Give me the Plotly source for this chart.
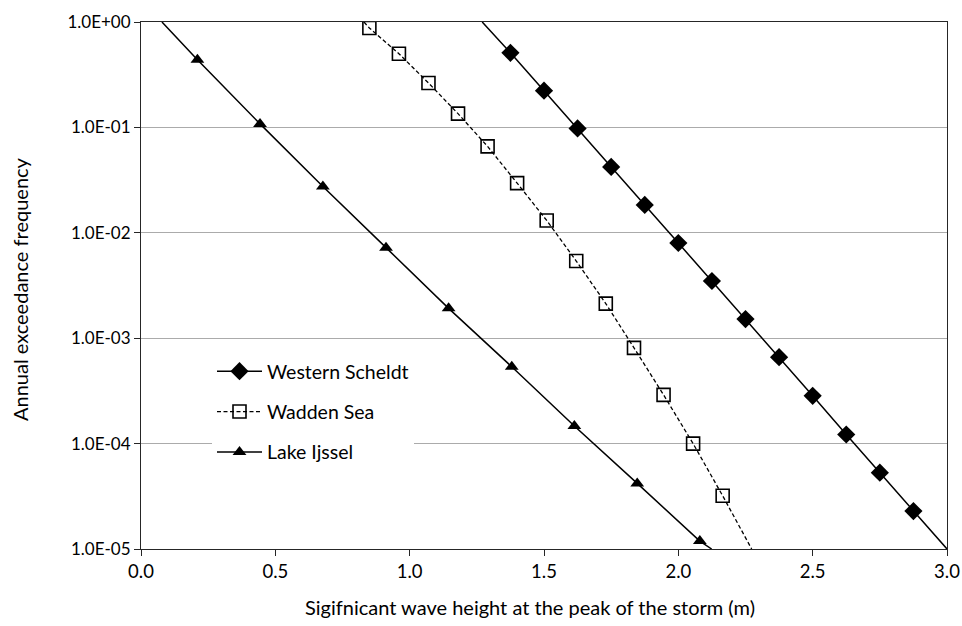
import plotly.graph_objects as go

# Western Scheldt
ws_x = [1.375, 1.5, 1.625, 1.75, 1.875, 2.0, 2.125, 2.25, 2.375, 2.5, 2.625, 2.75, 2.875]
ws_y = [0.51, 0.223, 0.0977, 0.0422, 0.0184, 0.0080, 0.00349, 0.00152, 6.6e-4, 2.84e-4, 1.22e-4, 5.3e-5, 2.29e-5]
ws_line_x = [1.27, 3.0]
ws_line_y = [1.0, 1e-5]

# Wadden Sea
wad_x = [0.85, 0.96, 1.07, 1.18, 1.29, 1.40, 1.51, 1.62, 1.73, 1.835, 1.945, 2.055, 2.165]
wad_y = [0.877, 0.50, 0.264, 0.135, 0.066, 0.0296, 0.0131, 0.0054, 0.00213, 8.1e-4, 2.9e-4, 1.0e-4, 3.2e-5]
wad_line_x = [0.83, 2.273]
wad_line_y = [1.0, 1e-5]

# Lake IJssel
lake_x = [0.21, 0.443, 0.677, 0.912, 1.145, 1.38, 1.613, 1.847, 2.08]
lake_y = [0.438, 0.108, 0.0275, 0.00723, 0.00192, 5.36e-4, 1.47e-4, 4.19e-5, 1.19e-5]
lake_line_x = [0.078, 2.124]
lake_line_y = [1.0, 1e-5]

names = ["Western Scheldt", "Wadden Sea", "Lake Ijssel"]
y_tickvals = [1e-5, 1e-4, 1e-3, 1e-2, 1e-1, 1e0]
y_ticktext = ["1.0E-05", "1.0E-04", "1.0E-03", "1.0E-02", "1.0E-01", "1.0E+00"]
x_tickvals = [0.0, 0.5, 1.0, 1.5, 2.0, 2.5, 3.0]

FONT = "Lato"
BLACK = "#000000"

series = [
    (names[0], ws_x, ws_y, ws_line_x, ws_line_y,
     dict(symbol="diamond", size=14, color=BLACK), "solid"),
    (names[1], wad_x, wad_y, wad_line_x, wad_line_y,
     dict(symbol="square-open", size=13, color=BLACK, line=dict(width=1.6, color=BLACK)), "4px,2.5px"),
    (names[2], lake_x, lake_y, lake_line_x, lake_line_y,
     dict(symbol="triangle-up", size=12, color=BLACK), "solid"),
]

fig = go.Figure()
for i, (nm, xs, ys, lx, ly, mk, dash) in enumerate(series):
    full_x = [lx[0]] + xs + [lx[1]]
    full_y = [ly[0]] + ys + [ly[1]]
    lw = 1.5 if dash == "solid" else 1.3
    fig.add_trace(go.Scatter(x=full_x, y=full_y, mode="lines",
                             line=dict(color=BLACK, width=lw, dash=dash),
                             showlegend=False, hoverinfo="skip"))
    fig.add_trace(go.Scatter(x=xs, y=ys, mode="markers", marker=mk,
                             showlegend=False, name=nm))
    fig.add_trace(go.Scatter(x=[None], y=[None], mode="lines+markers", name=nm,
                             marker=mk, line=dict(color=BLACK, width=lw, dash=dash),
                             legendgroup="g%d" % i, showlegend=True))

fig.update_layout(
    width=962, height=626,
    autosize=False,
    margin=dict(l=141, r=15, t=22, b=77, autoexpand=False),
    paper_bgcolor="white", plot_bgcolor="white",
    font=dict(family=FONT, size=19.5, color="#000000"),
    legend=dict(x=(212 - 141) / 806, y=(549 - 352) / 527, xanchor="left", yanchor="top",
                bgcolor="white", borderwidth=0, tracegroupgap=12,
                font=dict(family=FONT, size=19.5), itemwidth=45),
    xaxis=dict(range=[0, 3], tickvals=x_tickvals, tickformat=".1f", automargin=False,
               showgrid=False, zeroline=False, showline=True, linecolor="#262626",
               linewidth=1, mirror=True, ticks="outside", ticklen=6, tickcolor="#262626",
               tickfont=dict(family=FONT, size=18.5)),
    yaxis=dict(type="log", range=[-5, 0], tickvals=y_tickvals, ticktext=y_ticktext,
               automargin=False,
               showgrid=True, gridcolor="#ababab", gridwidth=1, zeroline=False,
               showline=True, linecolor="#262626", linewidth=1, mirror=True,
               ticks="outside", ticklen=6, tickcolor="#262626",
               tickfont=dict(family=FONT, size=17)),
    annotations=[
        dict(text="Sigifnicant wave height at the peak of the storm (m)",
             xref="paper", yref="paper", x=(530 - 141) / 806, y=-(607 - 549) / 527,
             xanchor="center", yanchor="middle", showarrow=False,
             font=dict(family=FONT, size=20)),
        dict(text="Annual exceedance frequency",
             xref="paper", yref="paper", x=-(141 - 20) / 806, y=(549 - 289) / 527,
             xanchor="center", yanchor="middle", textangle=-90, showarrow=False,
             font=dict(family=FONT, size=20)),
    ],
)

fig.write_html("out.html")
